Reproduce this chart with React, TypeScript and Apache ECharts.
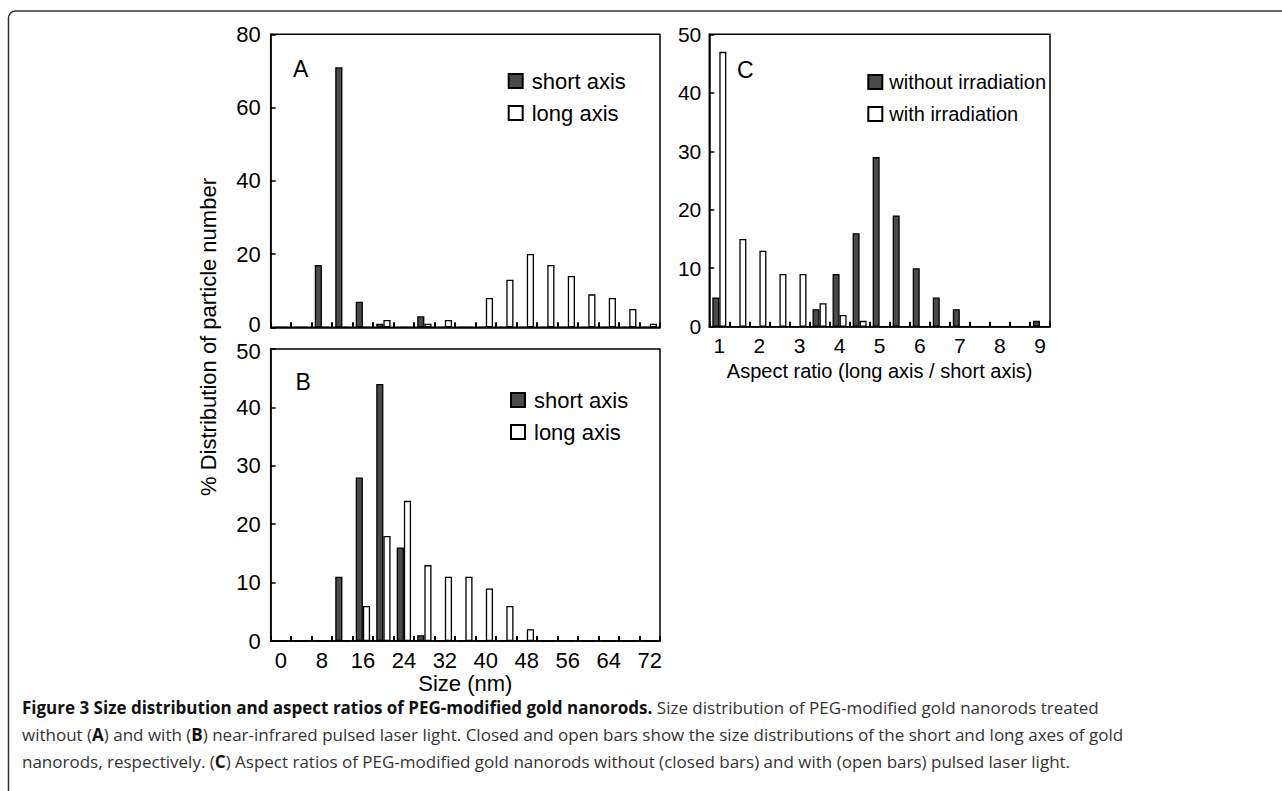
import React, { useEffect, useRef } from "react";
import * as echarts from "echarts";

const sizeCategories = ["0","4","8","12","16","20","24","28","32","36","40","44","48","52","56","60","64","68","72"];
const aShort = [0,0,17,71,7,1,0,3,0,0,0,0,0,0,0,0,0,0,0];
const aLong = [0,0,0,0,0,2,0,1,2,0,8,13,20,17,14,9,8,5,1];
const bShort = [0,0,0,11,28,44,16,1,0,0,0,0,0,0,0,0,0,0,0];
const bLong = [0,0,0,0,6,18,24,13,11,11,9,6,2,0,0,0,0,0,0];
const ratioCategories = ["1","1.5","2","2.5","3","3.5","4","4.5","5","5.5","6","6.5","7","7.5","8","8.5","9"];
const cWithout = [5,0,0,0,0,3,9,16,29,19,10,5,3,0,0,0,1];
const cWith = [47,15,13,9,9,4,2,1,0,0,0,0,0,0,0,0,0];

const FONT = "'Liberation Sans', Arial, sans-serif";
const CAP_FONT = "'Open Sans', 'Noto Sans', sans-serif";

const captionLines = [
  "{b|Figure 3 Size distribution and aspect ratios of PEG-modified gold nanorods.} Size distribution of PEG-modified gold nanorods treated",
  "without ({b|A}) and with ({b|B}) near-infrared pulsed laser light. Closed and open bars show the size distributions of the short and long axes of gold",
  "nanorods, respectively. ({b|C}) Aspect ratios of PEG-modified gold nanorods without (closed bars) and with (open bars) pulsed laser light.",
];

export default function App() {
  const ref = useRef<HTMLDivElement>(null);
  useEffect(() => {
    if (!ref.current) return;
    const chart = echarts.init(ref.current, null, { renderer: "svg" });
    const fs = 22;
    const fsC = 20;
    const capFs = 17;
    const dark = { color: "#4a4a4a", borderColor: "#000", borderWidth: 1.3 };
    const open = { color: "#fff", borderColor: "#000", borderWidth: 1.3 };
    const axisLine = { show: true, lineStyle: { color: "#000", width: 1.5 } };
    const xTick = { show: true, inside: true, interval: 0, length: 5, lineStyle: { color: "#000", width: 2 } };
    const yTick = { show: true, inside: true, length: 5, lineStyle: { color: "#000", width: 1.5 } };
    const lab = { color: "#000", fontSize: fs, fontFamily: FONT };
    const labC = { color: "#000", fontSize: 21, fontFamily: FONT };
    const gridBase = { show: true, borderColor: "#000", borderWidth: 1.5, containLabel: false };
    const barBase = { type: "bar", barGap: "0%", barCategoryGap: "30%", silent: true };
    const legendBase = {
      orient: "vertical", itemWidth: 14, itemHeight: 14, itemGap: 10, padding: 0,
      icon: "rect", selectedMode: false,
      textStyle: { color: "#000", fontSize: fs, fontFamily: FONT, lineHeight: 22, padding: [0, 0, 0, 4] },
    };
    const option: any = {
      animation: false,
      backgroundColor: "#fff",
      grid: [
        { ...gridBase, left: 270.7, top: 34.3, width: 389.3, height: 293 },
        { ...gridBase, left: 270.7, top: 349, width: 389.3, height: 292 },
        { ...gridBase, left: 709.3, top: 34.3, width: 340.7, height: 292.4 },
      ],
      xAxis: [
        { gridIndex: 0, type: "category", data: sizeCategories, axisLine, axisTick: xTick, axisLabel: { show: false } },
        { gridIndex: 1, type: "category", data: sizeCategories, axisLine, axisTick: xTick,
          axisLabel: { ...lab, interval: 1, margin: 8 },
          name: "Size (nm)", nameLocation: "middle", nameGap: 31,
          nameTextStyle: { color: "#000", fontSize: fs, fontFamily: FONT } },
        { gridIndex: 2, type: "category", data: ratioCategories, axisLine, axisTick: xTick,
          axisLabel: { ...labC, interval: 1, margin: 8 },
          name: "Aspect ratio (long axis / short axis)", nameLocation: "middle", nameGap: 34,
          nameTextStyle: { color: "#000", fontSize: 20, fontFamily: FONT } },
      ],
      yAxis: [
        { gridIndex: 0, type: "value", min: 0, max: 80, interval: 20, axisLine, axisTick: yTick, splitLine: { show: false },
          axisLabel: { ...lab, margin: 10,
            formatter: (v: number) => (v === 0 ? "{z|0}" : String(v)),
            rich: { z: { fontSize: fs, fontFamily: FONT, color: "#000", padding: [0, 0, 5, 0] } } } },
        { gridIndex: 1, type: "value", min: 0, max: 50, interval: 10, axisLine, axisTick: yTick, splitLine: { show: false },
          axisLabel: { ...lab, margin: 10,
            formatter: (v: number) => (v === 50 ? "{t|50}" : String(v)),
            rich: { t: { fontSize: fs, fontFamily: FONT, color: "#000", padding: [5, 0, 0, 0] } } } },
        { gridIndex: 2, type: "value", min: 0, max: 50, interval: 10, axisLine, axisTick: yTick, splitLine: { show: false }, axisLabel: { ...labC, margin: 8 } },
      ],
      legend: [
        { ...legendBase, data: ["short axis", "long axis"], left: 507.7, top: 70 },
        { ...legendBase, data: ["short axis", "long axis"], left: 510, top: 389 },
        { ...legendBase, data: ["without irradiation", "with irradiation"], left: 867.3, top: 71,
          textStyle: { ...legendBase.textStyle, fontSize: fsC, padding: [0, 0, 0, 2] } },
      ],
      series: [
        { ...barBase, name: "short axis", xAxisIndex: 0, yAxisIndex: 0, data: aShort, itemStyle: dark },
        { ...barBase, name: "long axis", xAxisIndex: 0, yAxisIndex: 0, data: aLong, itemStyle: open },
        { ...barBase, name: "short axis", xAxisIndex: 1, yAxisIndex: 1, data: bShort, itemStyle: dark },
        { ...barBase, name: "long axis", xAxisIndex: 1, yAxisIndex: 1, data: bLong, itemStyle: open },
        { ...barBase, name: "without irradiation", xAxisIndex: 2, yAxisIndex: 2, data: cWithout, itemStyle: dark },
        { ...barBase, name: "with irradiation", xAxisIndex: 2, yAxisIndex: 2, data: cWith, itemStyle: open },
      ],
      graphic: [
        { type: "rect", silent: true, z: -10, shape: { x: 8.5, y: 11, width: 1400, height: 900, r: [7, 0, 0, 0] },
          style: { fill: "none", stroke: "#333", lineWidth: 1.5 } },
        { type: "text", x: 293, y: 69, style: { text: "A", fontSize: 23, fontFamily: FONT, fill: "#000", align: "left", verticalAlign: "middle" } },
        { type: "text", x: 295.5, y: 382, style: { text: "B", fontSize: 23, fontFamily: FONT, fill: "#000", align: "left", verticalAlign: "middle" } },
        { type: "text", x: 737, y: 70, style: { text: "C", fontSize: 23, fontFamily: FONT, fill: "#000", align: "left", verticalAlign: "middle" } },
        { type: "text", x: 208, y: 337, rotation: Math.PI / 2,
          style: { text: "% Distribution of particle number", fontSize: fs, fontFamily: FONT, fill: "#000", align: "center", verticalAlign: "middle" } },
        ...captionLines.map((t, i) => ({
          type: "text", x: 22, y: 707 + i * 27,
          style: {
            text: t, fontSize: capFs, fontFamily: CAP_FONT, fill: "#333", align: "left", verticalAlign: "middle",
            rich: { b: { fontWeight: "bold", fontSize: capFs, fontFamily: CAP_FONT, fill: "#111" } },
          },
        })),
      ],
    };
    chart.setOption(option);
    return () => chart.dispose();
  }, []);
  return <div ref={ref} style={{ position: "fixed", left: 0, top: 0, width: 1282, height: 791, background: "#fff" }} />;
}
